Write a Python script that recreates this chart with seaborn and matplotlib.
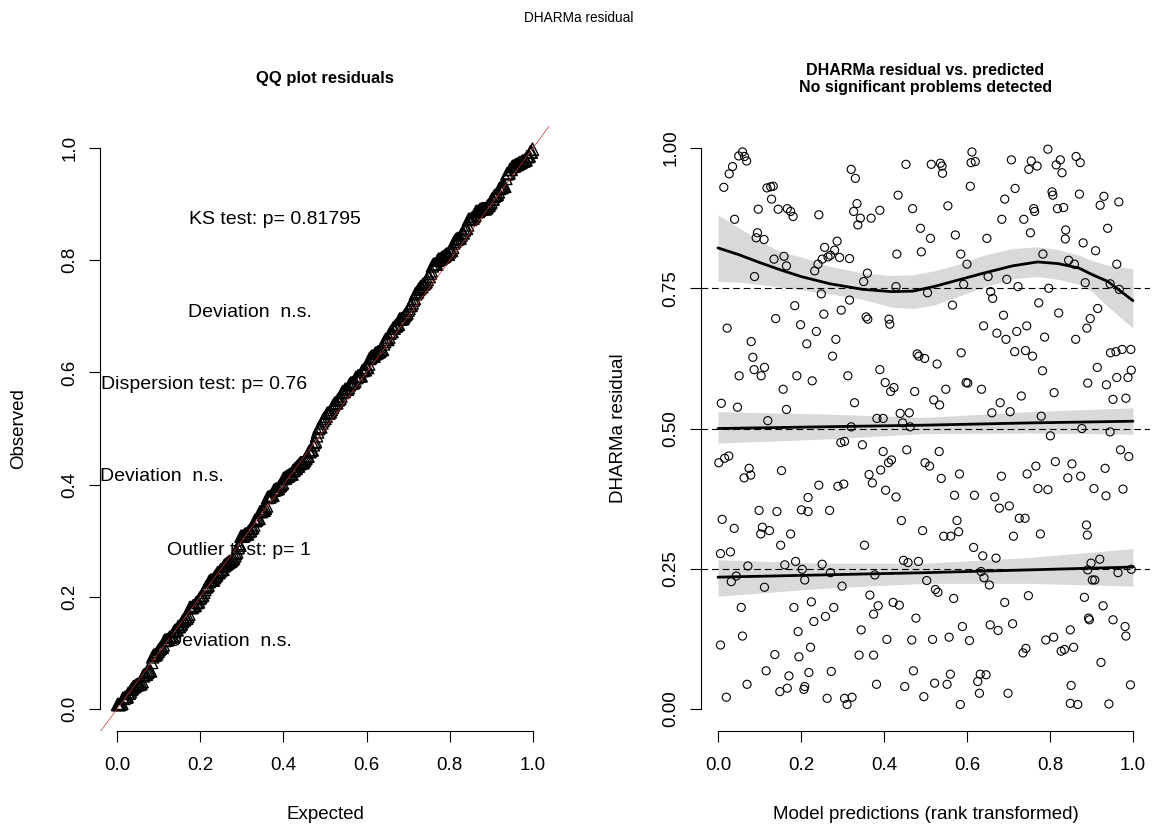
import numpy as np
import pandas as pd
import matplotlib
matplotlib.use("Agg")
import matplotlib.pyplot as plt
import seaborn as sns

# rank transformed model predictions and scaled residuals
pred = [0.059, 0.050, 0.064, 0.069, 0.035, 0.027, 0.014, 0.118, 0.127, 0.133, 0.129, 0.097, 0.145, 0.167, 0.175,
        0.181, 0.040, 0.243, 0.321, 0.331, 0.335, 0.327, 0.343, 0.337, 0.369, 0.390, 0.095, 0.092, 0.111, 0.088,
        0.135, 0.159, 0.165, 0.257, 0.287, 0.281, 0.271, 0.265, 0.251, 0.241, 0.233, 0.293, 0.317, 0.360, 0.351,
        0.249, 0.317, 0.185, 0.255, 0.297, 0.139, 0.199, 0.022, 0.237, 0.357, 0.361, 0.412, 0.414,
        0.453, 0.514, 0.536, 0.540, 0.541, 0.612, 0.610, 0.620, 0.707, 0.755, 0.749, 0.769, 0.795, 0.815, 0.825,
        0.829, 0.863, 0.873, 0.434, 0.608, 0.716, 0.691, 0.805, 0.807, 0.871, 0.469, 0.554, 0.761, 0.763, 0.818,
        0.833, 0.684, 0.737, 0.753, 0.488, 0.512, 0.572, 0.648, 0.838, 0.837, 0.880, 0.431, 0.490, 0.585, 0.600,
        0.783, 0.845, 0.859, 0.651, 0.696, 0.592, 0.429, 0.505, 0.723, 0.797, 0.657, 0.662, 0.885, 0.773, 0.565,
        0.688, 0.821, 0.640, 0.672, 0.720, 0.744, 0.889,
        0.080, 0.214, 0.284, 0.084, 0.276, 0.087, 0.112, 0.104, 0.051, 0.190, 0.227, 0.313, 0.390, 0.403, 0.416,
        0.424, 0.157, 0.008, 0.047, 0.329, 0.165, 0.120, 0.383, 0.398, 0.321, 0.296, 0.305, 0.348, 0.002, 0.016,
        0.026, 0.398, 0.411, 0.418, 0.075, 0.063, 0.079, 0.153, 0.392, 0.364, 0.372, 0.243, 0.289, 0.303, 0.404,
        0.217, 0.099, 0.142, 0.201, 0.217, 0.269, 0.010,
        0.694, 0.787, 0.862, 0.480, 0.484, 0.498, 0.528, 0.586, 0.715, 0.741, 0.758, 0.782, 0.598, 0.602, 0.549,
        0.635, 0.474, 0.810, 0.731, 0.520, 0.534, 0.680, 0.660, 0.704, 0.779, 0.439, 0.461, 0.445, 0.463, 0.801,
        0.877, 0.455, 0.533, 0.499, 0.510, 0.766, 0.813, 0.853, 0.538, 0.582, 0.683, 0.745, 0.843, 0.874, 0.771,
        0.795, 0.429, 0.570, 0.618, 0.667, 0.678, 0.702, 0.726, 0.740, 0.442, 0.576,
        0.039, 0.107, 0.103, 0.124, 0.175, 0.151, 0.353, 0.006, 0.030, 0.072, 0.161, 0.187, 0.203, 0.251, 0.271,
        0.044, 0.032, 0.209, 0.112, 0.299, 0.378, 0.366, 0.386, 0.375, 0.422, 0.056, 0.183, 0.225, 0.279, 0.259,
        0.231, 0.193, 0.345, 0.059, 0.407, 0.006, 0.223, 0.137, 0.195, 0.340, 0.375, 0.116, 0.171, 0.219, 0.273,
        0.070, 0.149, 0.167, 0.209, 0.207, 0.382, 0.020, 0.263, 0.305, 0.323, 0.311,
        0.493, 0.544, 0.561, 0.580, 0.712, 0.777, 0.888, 0.890, 0.616, 0.638, 0.670, 0.447, 0.458, 0.483, 0.503,
        0.524, 0.530, 0.568, 0.634, 0.641, 0.654, 0.691, 0.748, 0.883, 0.891, 0.437, 0.477, 0.589, 0.656, 0.675,
        0.710, 0.849, 0.893, 0.467, 0.517, 0.557, 0.606, 0.790, 0.809, 0.735, 0.742, 0.827, 0.835, 0.857, 0.471,
        0.560, 0.632, 0.646, 0.626, 0.450, 0.522, 0.552, 0.630, 0.699, 0.851, 0.496, 0.584, 0.849, 0.867,
        0.921, 0.930, 0.966, 0.939, 0.910, 0.961, 0.945, 0.967, 0.915, 0.897, 0.946, 0.959, 0.974, 0.995, 0.914,
        0.891, 0.936, 0.961, 0.988, 0.996, 0.952, 0.983, 0.945, 0.970, 0.990, 0.933, 0.906, 0.935, 0.976, 0.920,
        0.899, 0.902, 0.908, 0.964, 0.996, 0.928, 0.895, 0.952, 0.981, 0.983, 0.923, 0.994, 0.942]

resid = [0.993, 0.986, 0.985, 0.977, 0.967, 0.954, 0.930, 0.929, 0.931, 0.932, 0.909, 0.891, 0.891, 0.892, 0.887,
         0.878, 0.873, 0.881, 0.962, 0.946, 0.901, 0.887, 0.875, 0.863, 0.875, 0.889, 0.849, 0.840, 0.837, 0.771,
         0.802, 0.807, 0.790, 0.823, 0.834, 0.818, 0.809, 0.806, 0.802, 0.793, 0.781, 0.805, 0.803, 0.777, 0.762,
         0.740, 0.729, 0.719, 0.704, 0.711, 0.696, 0.685, 0.679, 0.673, 0.699, 0.695, 0.695, 0.686,
         0.971, 0.971, 0.973, 0.968, 0.955, 0.993, 0.974, 0.976, 0.979, 0.977, 0.962, 0.968, 0.998, 0.970, 0.979,
         0.956, 0.985, 0.974, 0.916, 0.932, 0.928, 0.909, 0.922, 0.916, 0.918, 0.892, 0.897, 0.892, 0.887, 0.892,
         0.894, 0.873, 0.873, 0.849, 0.857, 0.839, 0.845, 0.839, 0.854, 0.838, 0.831, 0.811, 0.815, 0.811, 0.793,
         0.811, 0.800, 0.793, 0.771, 0.766, 0.757, 0.753, 0.742, 0.753, 0.750, 0.744, 0.732, 0.760, 0.724, 0.720,
         0.702, 0.706, 0.683, 0.670, 0.673, 0.683, 0.679,
         0.655, 0.651, 0.659, 0.627, 0.629, 0.605, 0.609, 0.594, 0.594, 0.594, 0.585, 0.594, 0.605, 0.582, 0.566,
         0.573, 0.570, 0.545, 0.538, 0.546, 0.534, 0.514, 0.518, 0.518, 0.503, 0.475, 0.477, 0.471, 0.439, 0.447,
         0.451, 0.459, 0.439, 0.444, 0.429, 0.412, 0.417, 0.425, 0.426, 0.418, 0.403, 0.399, 0.397, 0.401, 0.390,
         0.377, 0.354, 0.352, 0.355, 0.352, 0.354, 0.338,
         0.659, 0.663, 0.659, 0.633, 0.629, 0.625, 0.615, 0.635, 0.637, 0.639, 0.629, 0.603, 0.582, 0.581, 0.570,
         0.570, 0.566, 0.564, 0.558, 0.551, 0.542, 0.546, 0.528, 0.530, 0.522, 0.527, 0.528, 0.510, 0.503, 0.487,
         0.500, 0.462, 0.459, 0.439, 0.433, 0.433, 0.441, 0.437, 0.411, 0.419, 0.415, 0.419, 0.412, 0.415, 0.393,
         0.391, 0.378, 0.381, 0.381, 0.378, 0.358, 0.362, 0.340, 0.340, 0.336, 0.336,
         0.322, 0.324, 0.312, 0.318, 0.312, 0.292, 0.292, 0.277, 0.280, 0.255, 0.257, 0.263, 0.249, 0.258, 0.243,
         0.237, 0.227, 0.230, 0.217, 0.219, 0.239, 0.203, 0.184, 0.169, 0.190, 0.181, 0.181, 0.191, 0.181, 0.165,
         0.156, 0.138, 0.141, 0.130, 0.124, 0.114, 0.110, 0.097, 0.093, 0.096, 0.096, 0.068, 0.059, 0.065, 0.067,
         0.044, 0.031, 0.037, 0.040, 0.035, 0.044, 0.021, 0.019, 0.019, 0.021, 0.008,
         0.318, 0.308, 0.308, 0.316, 0.308, 0.312, 0.328, 0.310, 0.288, 0.273, 0.269, 0.265, 0.261, 0.263, 0.229,
         0.213, 0.208, 0.197, 0.245, 0.234, 0.221, 0.190, 0.202, 0.199, 0.248, 0.185, 0.162, 0.147, 0.150, 0.140,
         0.152, 0.141, 0.162, 0.123, 0.124, 0.128, 0.122, 0.123, 0.128, 0.100, 0.108, 0.103, 0.106, 0.110, 0.068,
         0.062, 0.062, 0.061, 0.049, 0.040, 0.046, 0.044, 0.028, 0.028, 0.042, 0.022, 0.008, 0.010, 0.008,
         0.898, 0.914, 0.904, 0.857, 0.817, 0.793, 0.758, 0.748, 0.714, 0.696, 0.635, 0.637, 0.641, 0.641, 0.609,
         0.581, 0.578, 0.591, 0.591, 0.604, 0.552, 0.554, 0.494, 0.462, 0.450, 0.429, 0.393, 0.380, 0.392, 0.267,
         0.260, 0.230, 0.230, 0.243, 0.249, 0.184, 0.159, 0.159, 0.147, 0.130, 0.083, 0.043, 0.009]

# quantile regression fits (0.25 / 0.5 / 0.75) with their confidence bands
q75_x = [0.0, 0.05, 0.1, 0.15, 0.2, 0.27, 0.35, 0.42, 0.47, 0.52, 0.58, 0.64, 0.71, 0.77, 0.82, 0.87, 0.9, 0.94, 1.0]
q75_fit = [0.822, 0.810, 0.796, 0.783, 0.771, 0.758, 0.748, 0.744, 0.745, 0.753, 0.765, 0.777, 0.790, 0.797, 0.794,
           0.786, 0.775, 0.762, 0.728]
q75_hi = [0.881, 0.858, 0.835, 0.815, 0.806, 0.789, 0.777, 0.773, 0.774, 0.781, 0.793, 0.809, 0.821, 0.824, 0.819,
          0.809, 0.800, 0.791, 0.785]
q75_lo = [0.762, 0.761, 0.757, 0.752, 0.747, 0.740, 0.730, 0.716, 0.714, 0.720, 0.736, 0.752, 0.767, 0.771, 0.766,
          0.757, 0.745, 0.717, 0.679]

q50_x = [0.0, 0.25, 0.5, 0.75, 1.0]
q50_fit = [0.500, 0.503, 0.506, 0.510, 0.513]
q50_hi = [0.530, 0.526, 0.520, 0.530, 0.537]
q50_lo = [0.474, 0.481, 0.491, 0.492, 0.490]

q25_x = [0.0, 0.25, 0.5, 0.75, 1.0]
q25_fit = [0.235, 0.239, 0.243, 0.248, 0.253]
q25_hi = [0.266, 0.260, 0.260, 0.270, 0.286]
q25_lo = [0.201, 0.215, 0.224, 0.224, 0.219]

# test results written into the QQ panel: (text, x, y)
qq_notes = [("KS test: p= 0.81795", 0.380, 0.873),
            ("Deviation  n.s.", 0.320, 0.707),
            ("Dispersion test: p= 0.76", 0.209, 0.579),
            ("Deviation  n.s.", 0.108, 0.414),
            ("Outlier test: p= 1", 0.294, 0.283),
            ("Deviation  n.s.", 0.271, 0.121)]

unit_ticks = [0.0, 0.2, 0.4, 0.6, 0.8, 1.0]
unit_labels = ["0.0", "0.2", "0.4", "0.6", "0.8", "1.0"]
res_ticks = [0.0, 0.25, 0.5, 0.75, 1.0]
res_labels = ["0.00", "0.25", "0.50", "0.75", "1.00"]

sns.set_theme(style="ticks")
plt.rcParams['font.family'] = ['Liberation Sans', 'DejaVu Sans']
plt.rcParams['text.color'] = 'black'
plt.rcParams['axes.labelcolor'] = 'black'

fig = plt.figure(figsize=(11.58, 8.32), dpi=100)
ax1 = fig.add_axes([0.0867, 0.1209, 0.3879, 0.7281])
ax2 = fig.add_axes([0.6057, 0.1209, 0.3870, 0.7281])

# QQ plot: sorted residuals against uniform quantiles
n = len(resid)
qq = pd.DataFrame({"expected": (np.arange(1, n + 1) - 0.5) / n,
                   "observed": np.sort(resid)})
sns.scatterplot(data=qq, x="expected", y="observed", marker="^", s=78,
                facecolor="none", edgecolor="black", linewidth=1.0, ax=ax1, zorder=2)
ax1.plot([-0.04, 1.04], [-0.04, 1.04], color="#d03030", lw=0.5, zorder=3)
for txt, tx, ty in qq_notes:
    ax1.text(tx, ty, txt, ha="center", va="center", fontsize=14, color="black", zorder=4)

# residual vs predicted
df = pd.DataFrame({"pred": pred, "resid": resid})
sns.scatterplot(data=df, x="pred", y="resid", marker="o", s=34,
                facecolor="none", edgecolor="black", linewidth=0.8, ax=ax2, zorder=2)
for h in res_ticks[1:4]:
    ax2.axhline(h, color="black", lw=0.8, ls=(0, (6, 3.5)), zorder=3)
for qx, fit, lo, hi in [(q25_x, q25_fit, q25_lo, q25_hi),
                        (q50_x, q50_fit, q50_lo, q50_hi),
                        (q75_x, q75_fit, q75_lo, q75_hi)]:
    ax2.fill_between(qx, lo, hi, color="black", alpha=0.15, lw=0, zorder=4)
    ax2.plot(qx, fit, color="black", lw=2, zorder=5)

for ax in (ax1, ax2):
    ax.set_xlim(-0.04, 1.04)
    ax.set_ylim(-0.04, 1.04)
    sns.despine(ax=ax)
    for side in ("left", "bottom"):
        ax.spines[side].set_bounds(0, 1)
        ax.spines[side].set_color("black")
        ax.spines[side].set_linewidth(0.8)
    ax.set_xticks(unit_ticks)
    ax.set_xticklabels(unit_labels)
    ax.tick_params(direction="out", length=8, width=0.8, colors="black", labelsize=13.5)
    ax.tick_params(axis="x", pad=10.5)
    ax.tick_params(axis="y", pad=8)
    ax.grid(False)

ax1.set_yticks(unit_ticks)
ax1.set_yticklabels(unit_labels, rotation=90, va="center")
ax2.set_yticks(res_ticks)
ax2.set_yticklabels(res_labels, rotation=90, va="center")

ax1.set_xlabel("Expected", fontsize=13.5)
ax1.set_ylabel("Observed", fontsize=13.5)
ax2.set_xlabel("Model predictions (rank transformed)", fontsize=13.5)
ax2.set_ylabel("DHARMa residual", fontsize=13.5)
ax1.xaxis.set_label_coords(0.5, -0.123)
ax2.xaxis.set_label_coords(0.5, -0.123)
ax1.yaxis.set_label_coords(-0.1825, 0.5)
ax2.yaxis.set_label_coords(-0.1847, 0.5)
for ax in (ax1, ax2):
    ax.yaxis.label.set_verticalalignment("center")

ax1.set_title("QQ plot residuals", fontsize=12, fontweight="bold", y=1.0786, va="center", pad=0)
ax2.set_title("DHARMa residual vs. predicted\nNo significant problems detected",
              fontsize=11.5, fontweight="bold", y=1.0772, va="center", linespacing=1.15, pad=0)
fig.suptitle("DHARMa residual", fontsize=9.8, y=1 - 18 / 832, va="center")

fig.savefig("out.png", dpi=100)
